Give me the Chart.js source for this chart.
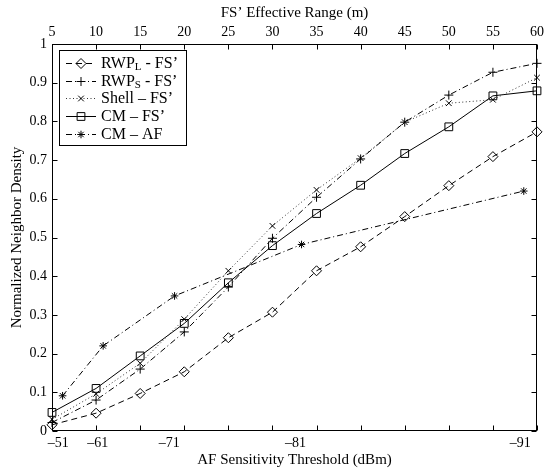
<!DOCTYPE html>
<html>
<head>
<meta charset="utf-8">
<script src="https://cdn.jsdelivr.net/npm/chart.js@4.4.1/dist/chart.umd.min.js"></script>
<style>
  html, body { margin: 0; padding: 0; background: #fff; }
  #wrap { width: 547px; height: 470px; }
</style>
</head>
<body>
<div id="wrap"><canvas id="c" width="547" height="470"></canvas></div>
<script>
// FS' effective range (m), x positions of the FS' curves
const rangeM = [5, 10, 15, 20, 25, 30, 35, 40, 45, 50, 55, 60];

const rwpL  = [0.016, 0.046, 0.097, 0.153, 0.241, 0.307, 0.414, 0.476, 0.554, 0.634, 0.709, 0.773];
const rwpS  = [0.022, 0.080, 0.160, 0.256, 0.372, 0.498, 0.604, 0.703, 0.798, 0.868, 0.927, 0.950];
const shell = [0.030, 0.096, 0.175, 0.289, 0.414, 0.530, 0.623, 0.705, 0.798, 0.847, 0.856, 0.913];
const cmFS  = [0.048, 0.110, 0.194, 0.278, 0.383, 0.479, 0.562, 0.635, 0.717, 0.786, 0.866, 0.879];

// CM - AF sits on the sensitivity thresholds (expressed on the range scale)
const cmAfX = [6.2, 10.8, 18.9, 33.3, 58.5];
const cmAfY = [0.091, 0.220, 0.349, 0.482, 0.620];

// bottom axis: dBm labels and where they fall on the range scale
const afTickLabels = ['–51', '–61', '–71', '–81', '–91'];
const afTickPos = [5.7, 10.2, 18.3, 32.6, 58.1];

// legend text, split around the subscript
const legendMain = ['RWP', 'RWP', 'Shell – FS’', 'CM – FS’', 'CM – AF'];
const legendSub  = ['L', 'S', '', '', ''];
const legendTail = [' - FS’', ' - FS’', '', '', ''];

const serif = '"Liberation Serif", "Times New Roman", serif';
const tickFont = { family: serif, size: 14 };
const titleFont = { family: serif, size: 15 };

const pts = (xs, ys) => xs.map((x, i) => ({ x: x, y: ys[i] }));

const lineDs = (data, dash, style, radius, color) => ({
    data: data,
    borderColor: color || '#000',
    borderWidth: 1,
    borderDash: dash,
    pointStyle: style,
    pointRadius: radius,
    pointBorderColor: '#000',
    pointBackgroundColor: 'rgba(0,0,0,0)',
    pointBorderWidth: 1,
    tension: 0,
    clip: false
});

// box, inward ticks and the legend
const frame = {
    id: 'frame',
    afterDraw(chart) {
        const { ctx, chartArea: a, scales } = chart;
        const L = Math.round(a.left) + 0.5, R = Math.round(a.right) - 0.5;
        const T = Math.round(a.top) + 0.5, B = Math.round(a.bottom) - 0.5;
        ctx.save();
        ctx.strokeStyle = '#000';
        ctx.lineWidth = 1;
        ctx.setLineDash([]);
        ctx.strokeRect(L, T, R - L, B - T);

        ctx.beginPath();
        rangeM.forEach(v => {
            const px = Math.round(scales.x.getPixelForValue(v)) + 0.5;
            ctx.moveTo(px, B); ctx.lineTo(px, B - 5);
            ctx.moveTo(px, T); ctx.lineTo(px, T + 5);
        });
        for (let k = 0; k <= 10; k++) {
            const py = Math.round(scales.y.getPixelForValue(k / 10)) + 0.5;
            ctx.moveTo(L, py); ctx.lineTo(L + 5, py);
            ctx.moveTo(R, py); ctx.lineTo(R - 5, py);
        }
        ctx.stroke();

        // legend
        const bx = 59.5, by = 50.5, bw = 127, bh = 95;
        ctx.fillStyle = '#fff';
        ctx.fillRect(bx, by, bw, bh);
        ctx.strokeRect(bx, by, bw, bh);
        chart.data.datasets.forEach((ds, i) => {
            const y = Math.round(63 + i * 17.7) + 0.5;
            ctx.strokeStyle = ds.borderColor;
            ctx.setLineDash(ds.borderDash);
            ctx.beginPath();
            ctx.moveTo(66, y); ctx.lineTo(96, y);
            ctx.stroke();
            ctx.setLineDash([]);
            ctx.strokeStyle = '#000';
            ctx.fillStyle = 'rgba(0,0,0,0)';
            Chart.helpers.drawPoint(ctx, {
                pointStyle: ds.pointStyle, radius: ds.pointRadius, rotation: 0, borderWidth: 1
            }, 81, y);

            ctx.fillStyle = '#000';
            ctx.textBaseline = 'middle';
            ctx.textAlign = 'left';
            ctx.font = '16px ' + serif;
            let tx = 101;
            ctx.fillText(legendMain[i], tx, y);
            tx += ctx.measureText(legendMain[i]).width;
            if (legendSub[i]) {
                ctx.font = '11px ' + serif;
                ctx.fillText(legendSub[i], tx, y + 4);
                tx += ctx.measureText(legendSub[i]).width;
                ctx.font = '16px ' + serif;
            }
            ctx.fillText(legendTail[i], tx, y);
        });
        ctx.restore();
    }
};

new Chart(document.getElementById('c').getContext('2d'), {
    type: 'line',
    data: {
        datasets: [
            lineDs(pts(rangeM, rwpL), [6, 4], 'rectRot', 5),
            lineDs(pts(rangeM, rwpS), [6, 3, 1, 3], 'cross', 4.5),
            lineDs(pts(rangeM, shell), [1, 2.5], 'crossRot', 4, '#333'),
            lineDs(pts(rangeM, cmFS), [], 'rect', 5.5),
            lineDs(pts(cmAfX, cmAfY), [6, 3, 1, 3], 'star', 3.8)
        ]
    },
    options: {
        responsive: false,
        animation: false,
        devicePixelRatio: 1,
        layout: { padding: { left: 0, right: 7, top: 0, bottom: 0 } },
        plugins: { legend: { display: false }, tooltip: { enabled: false } },
        scales: {
            x: {
                type: 'linear', position: 'bottom', min: 5, max: 60,
                afterBuildTicks: s => { s.ticks = afTickPos.map(v => ({ value: v })); },
                afterFit: s => { s.height = 39; },
                ticks: {
                    autoSkip: false, maxRotation: 0, padding: 4, color: '#000', font: tickFont,
                    callback: (v, i) => afTickLabels[i]
                },
                grid: { display: false, drawTicks: false },
                border: { display: false },
                title: {
                    display: true, text: 'AF Sensitivity Threshold (dBm)', color: '#000',
                    font: titleFont, padding: { top: 0, bottom: 1 }
                }
            },
            x2: {
                type: 'linear', position: 'top', min: 5, max: 60,
                afterFit: s => { s.height = 44; },
                ticks: { stepSize: 5, autoSkip: false, maxRotation: 0, padding: 3, color: '#000', font: tickFont },
                grid: { display: false, drawTicks: false },
                border: { display: false },
                title: {
                    display: true, text: 'FS’ Effective Range (m)', color: '#000',
                    font: titleFont, padding: { top: 4, bottom: 0 }
                }
            },
            y: {
                min: 0, max: 1,
                afterFit: s => { s.width = 52; },
                ticks: {
                    stepSize: 0.1, padding: 5, color: '#000', font: tickFont,
                    callback: v => String(Math.round(v * 10) / 10)
                },
                grid: { display: false, drawTicks: false },
                border: { display: false },
                title: {
                    display: true, text: 'Normalized Neighbor Density', color: '#000',
                    font: titleFont, padding: { top: 8, bottom: 0 }
                }
            }
        }
    },
    plugins: [frame]
});
</script>
</body>
</html>
